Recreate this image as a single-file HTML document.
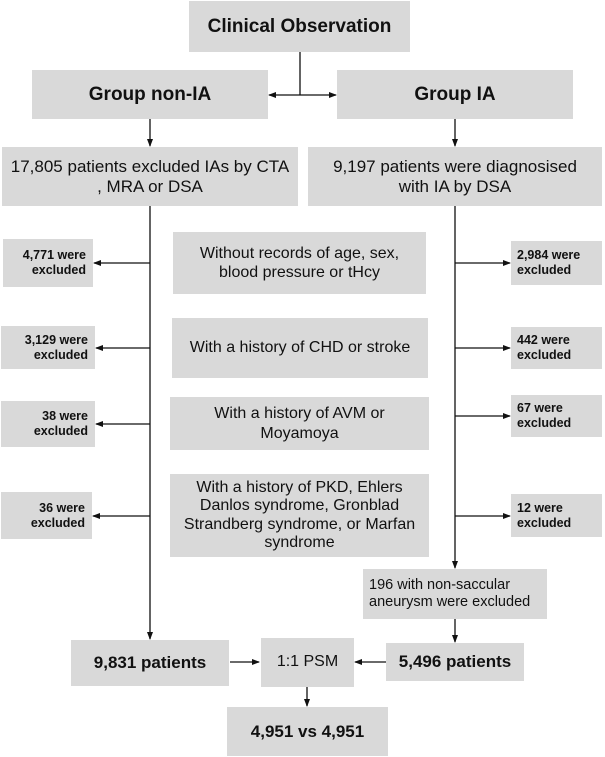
<!DOCTYPE html>
<html><head><meta charset="utf-8"><style>
body{margin:0;width:605px;height:757px;background:#fff;position:relative;overflow:hidden;font-family:"Liberation Sans",sans-serif;color:#111}
.b{position:absolute;background:#d9d9d9;display:flex;align-items:center;justify-content:center;text-align:center;line-height:1.15;box-sizing:border-box}
.bold{font-weight:bold}
.ex{font-weight:bold;font-size:12.5px;line-height:1.2}
.mid{font-size:16px;line-height:1.2}
svg{position:absolute;left:0;top:0}
</style></head><body>
<div class="b bold" style="left:189px;top:1px;width:221px;height:51px;font-size:19px">Clinical Observation</div>
<div class="b bold" style="left:32px;top:70px;width:236px;height:49px;font-size:19px">Group non-IA</div>
<div class="b bold" style="left:337px;top:70px;width:236px;height:49px;font-size:19px">Group IA</div>
<div class="b" style="left:2px;top:147px;width:296px;height:59px;font-size:17px">17,805 patients excluded IAs by CTA<br>, MRA or DSA</div>
<div class="b" style="left:308px;top:147px;width:294px;height:59px;font-size:17px">9,197 patients were diagnosised<br>with IA by DSA</div>

<div class="b ex" style="left:3px;top:239px;width:90px;height:48px;text-align:right;justify-content:flex-end;padding-right:7px">4,771 were<br>excluded</div>
<div class="b ex" style="left:1px;top:326px;width:94px;height:43px;text-align:right;justify-content:flex-end;padding-right:7px">3,129 were<br>excluded</div>
<div class="b ex" style="left:1px;top:401px;width:94px;height:46px;text-align:right;justify-content:flex-end;padding-right:7px">38 were<br>excluded</div>
<div class="b ex" style="left:1px;top:492px;width:91px;height:47px;text-align:right;justify-content:flex-end;padding-right:7px">36 were<br>excluded</div>

<div class="b ex" style="left:511px;top:241px;width:91px;height:44px;text-align:left;justify-content:flex-start;padding-left:6px">2,984 were<br>excluded</div>
<div class="b ex" style="left:511px;top:327px;width:91px;height:42px;text-align:left;justify-content:flex-start;padding-left:6px">442 were<br>excluded</div>
<div class="b ex" style="left:511px;top:395px;width:91px;height:42px;text-align:left;justify-content:flex-start;padding-left:6px">67 were<br>excluded</div>
<div class="b ex" style="left:511px;top:494px;width:91px;height:43px;text-align:left;justify-content:flex-start;padding-left:6px">12 were<br>excluded</div>

<div class="b mid" style="left:173px;top:232px;width:253px;height:62px">Without records of age, sex,<br>blood pressure or tHcy</div>
<div class="b mid" style="left:172px;top:318px;width:256px;height:60px">With a history of CHD or stroke</div>
<div class="b mid" style="left:170px;top:397px;width:259px;height:53px">With a history of AVM or<br>Moyamoya</div>
<div class="b mid" style="left:170px;top:474px;width:259px;height:83px;line-height:1.13">With a history of PKD, Ehlers<br>Danlos syndrome, Gronblad<br>Strandberg syndrome, or Marfan<br>syndrome</div>

<div class="b" style="left:363px;top:569px;width:184px;height:50px;font-size:14.5px;text-align:left;justify-content:flex-start;padding-left:6px">196 with non-saccular<br>aneurysm were excluded</div>

<div class="b bold" style="left:71px;top:640px;width:158px;height:46px;font-size:17px">9,831 patients</div>
<div class="b" style="left:261px;top:638px;width:93px;height:49px;font-size:16px">1:1 PSM</div>
<div class="b bold" style="left:386px;top:643px;width:138px;height:38px;font-size:17px">5,496 patients</div>
<div class="b bold" style="left:227px;top:707px;width:161px;height:49px;font-size:17px">4,951 vs 4,951</div>

<svg width="605" height="757" viewBox="0 0 605 757">
<defs><marker id="a" markerWidth="8" markerHeight="8" refX="7" refY="4" orient="auto" markerUnits="userSpaceOnUse"><path d="M0,1 L8,4 L0,7 Z" fill="#111"/></marker></defs>
<g stroke="#111" stroke-width="1.3" fill="none">
<line x1="300" y1="52" x2="300" y2="95"/>
<line x1="300" y1="95" x2="269" y2="95" marker-end="url(#a)"/>
<line x1="300" y1="95" x2="336" y2="95" marker-end="url(#a)"/>
<line x1="150" y1="119" x2="150" y2="146" marker-end="url(#a)"/>
<line x1="455" y1="119" x2="455" y2="146" marker-end="url(#a)"/>
<line x1="150" y1="206" x2="150" y2="639" marker-end="url(#a)"/>
<line x1="455" y1="206" x2="455" y2="568" marker-end="url(#a)"/>
<line x1="150" y1="263" x2="94" y2="263" marker-end="url(#a)"/>
<line x1="150" y1="348" x2="96" y2="348" marker-end="url(#a)"/>
<line x1="150" y1="424" x2="96" y2="424" marker-end="url(#a)"/>
<line x1="150" y1="516" x2="93" y2="516" marker-end="url(#a)"/>
<line x1="455" y1="263" x2="510" y2="263" marker-end="url(#a)"/>
<line x1="455" y1="348" x2="510" y2="348" marker-end="url(#a)"/>
<line x1="455" y1="416" x2="510" y2="416" marker-end="url(#a)"/>
<line x1="455" y1="516" x2="510" y2="516" marker-end="url(#a)"/>
<line x1="455" y1="619" x2="455" y2="642" marker-end="url(#a)"/>
<line x1="230" y1="662" x2="259" y2="662" marker-end="url(#a)"/>
<line x1="386" y1="662" x2="355" y2="662" marker-end="url(#a)"/>
<line x1="307" y1="687" x2="307" y2="706" marker-end="url(#a)"/>
</g></svg>
</body></html>
